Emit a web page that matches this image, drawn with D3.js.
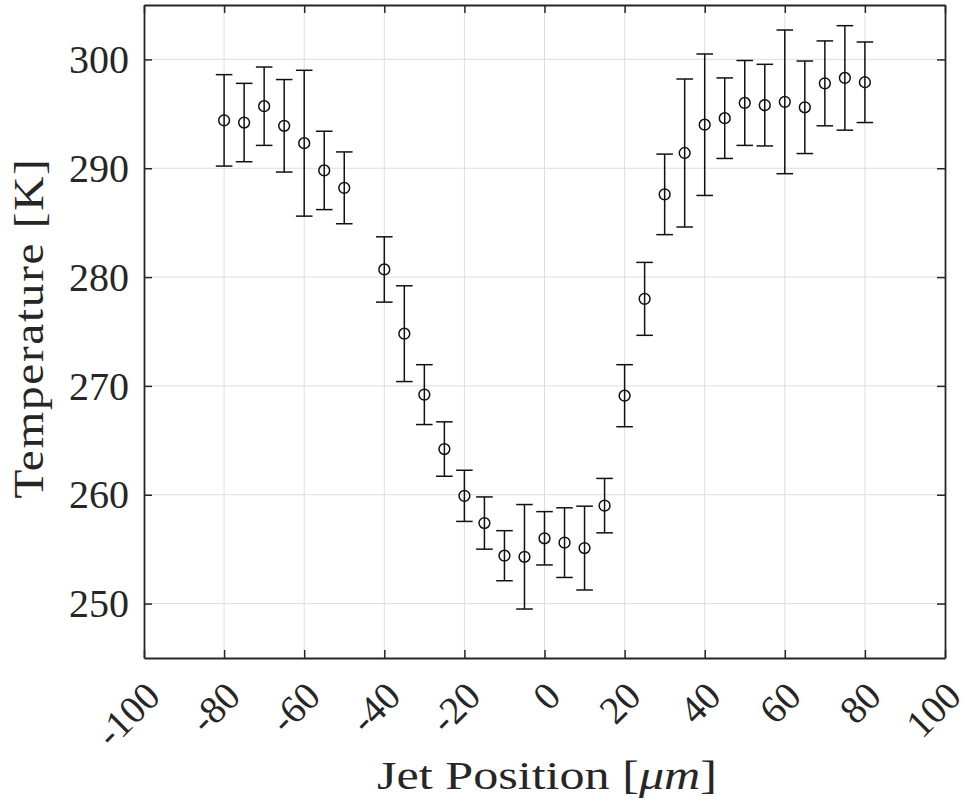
<!DOCTYPE html>
<html>
<head>
<meta charset="utf-8">
<script src="https://cdn.jsdelivr.net/npm/d3@7"></script>
<style>
  html, body { margin: 0; padding: 0; background: #fff; }
  svg { display: block; }
  text { font-family: "Liberation Serif", "Times New Roman", serif; fill: #262626; }
</style>
</head>
<body>
<svg id="chart" width="969" height="812"></svg>
<script>
// Measured jet temperature across the jet position, with symmetric error bars
const positions = [-80, -75, -70, -65, -60, -55, -50, -40, -35, -30, -25, -20, -15, -10, -5, 0,
                   5, 10, 15, 20, 25, 30, 35, 40, 45, 50, 55, 60, 65, 70, 75, 80];
const temperatures = [294.4, 294.2, 295.7, 293.9, 292.3, 289.8, 288.2, 280.7, 274.8, 269.2, 264.2, 259.9,
                      257.4, 254.4, 254.3, 256.0, 255.6, 255.1, 259.0, 269.1, 278.0, 287.6, 291.4, 294.0,
                      294.6, 296.0, 295.8, 296.1, 295.6, 297.8, 298.3, 297.9];
const errors = [4.2, 3.6, 3.6, 4.25, 6.7, 3.6, 3.3, 3.0, 4.4, 2.75, 2.5, 2.35,
                2.4, 2.3, 4.8, 2.45, 3.2, 3.85, 2.5, 2.85, 3.35, 3.7, 6.8, 6.5,
                3.7, 3.9, 3.75, 6.6, 4.25, 3.9, 4.8, 3.7];
const xTicks = [-100, -80, -60, -40, -20, 0, 20, 40, 60, 80, 100];
const yTicks = [250, 260, 270, 280, 290, 300];

const plot = { left: 144, right: 945, top: 5, bottom: 658 };
const axisColor = "#262626";

const svg = d3.select("#chart");
svg.append("rect").attr("width", 969).attr("height", 812).attr("fill", "#fff");

const x = d3.scaleLinear().domain([-100, 100]).range([plot.left, plot.right]);
const y = d3.scaleLinear().domain([245, 305]).range([plot.bottom, plot.top]);

// Grid lines
const grid = svg.append("g").attr("stroke", "#dedede").attr("stroke-width", 1);
grid.selectAll(".gx").data(xTicks.slice(1, -1)).join("line")
  .attr("x1", d => x(d)).attr("x2", d => x(d))
  .attr("y1", plot.top).attr("y2", plot.bottom);
grid.selectAll(".gy").data(yTicks).join("line")
  .attr("x1", plot.left).attr("x2", plot.right)
  .attr("y1", d => y(d)).attr("y2", d => y(d));

// Axes with inward ticks on all four sides
const tickLen = 8;
const axisBottom = d3.axisBottom(x).tickValues(xTicks).tickSizeInner(-tickLen).tickSizeOuter(0).tickFormat("");
const axisTop = d3.axisTop(x).tickValues(xTicks).tickSizeInner(-tickLen).tickSizeOuter(0).tickFormat("");
const axisLeft = d3.axisLeft(y).tickValues(yTicks).tickSizeInner(-tickLen).tickSizeOuter(0).tickFormat("");
const axisRight = d3.axisRight(y).tickValues(yTicks).tickSizeInner(-tickLen).tickSizeOuter(0).tickFormat("");

function styleAxis(g) {
  g.selectAll("path").attr("stroke", axisColor).attr("stroke-width", 1.8);
  g.selectAll("line").attr("stroke", axisColor).attr("stroke-width", 1.5);
}
svg.append("g").attr("transform", `translate(0,${plot.bottom})`).call(axisBottom).call(styleAxis);
svg.append("g").attr("transform", `translate(0,${plot.top})`).call(axisTop).call(styleAxis);
svg.append("g").attr("transform", `translate(${plot.left},0)`).call(axisLeft).call(styleAxis);
svg.append("g").attr("transform", `translate(${plot.right},0)`).call(axisRight).call(styleAxis);

// Y tick labels
svg.append("g").selectAll("text").data(yTicks).join("text")
  .attr("x", plot.left - 15)
  .attr("y", d => y(d))
  .attr("dy", "0.34em")
  .attr("text-anchor", "end")
  .attr("font-size", 40)
  .text(d => d);

// X tick labels, rotated 45 degrees
svg.append("g").selectAll("text").data(xTicks).join("text")
  .attr("transform", d => `translate(${x(d) + 9},${plot.bottom + 31}) rotate(-45)`)
  .attr("dy", "0.34em")
  .attr("text-anchor", "end")
  .attr("font-size", 39)
  .text(d => d);

// Axis titles
const xLabel = svg.append("text")
  .attr("x", 547).attr("y", 789)
  .attr("text-anchor", "middle")
  .attr("font-size", 41)
  .attr("textLength", 340)
  .attr("lengthAdjust", "spacingAndGlyphs");
xLabel.append("tspan").text("Jet Position [");
xLabel.append("tspan").attr("font-style", "italic").text("μm");
xLabel.append("tspan").text("]");

svg.append("text")
  .attr("transform", "translate(43,328) rotate(-90)")
  .attr("text-anchor", "middle")
  .attr("font-size", 42)
  .attr("letter-spacing", 1.5)
  .attr("textLength", 341)
  .attr("lengthAdjust", "spacingAndGlyphs")
  .text("Temperature [K]");

// Error bars and markers
const points = positions.map((p, i) => ({ p, t: temperatures[i], e: errors[i] }));
const capHalf = 8.3;
const bars = svg.append("g").attr("stroke", "#111").attr("stroke-width", 1.5).attr("fill", "none");
bars.selectAll(".stem").data(points).join("line")
  .attr("x1", d => x(d.p)).attr("x2", d => x(d.p))
  .attr("y1", d => y(d.t - d.e)).attr("y2", d => y(d.t + d.e));
bars.selectAll(".capTop").data(points).join("line")
  .attr("x1", d => x(d.p) - capHalf).attr("x2", d => x(d.p) + capHalf)
  .attr("y1", d => y(d.t + d.e)).attr("y2", d => y(d.t + d.e));
bars.selectAll(".capBottom").data(points).join("line")
  .attr("x1", d => x(d.p) - capHalf).attr("x2", d => x(d.p) + capHalf)
  .attr("y1", d => y(d.t - d.e)).attr("y2", d => y(d.t - d.e));
bars.selectAll("circle").data(points).join("circle")
  .attr("cx", d => x(d.p)).attr("cy", d => y(d.t))
  .attr("r", 5.4);
</script>
</body>
</html>
